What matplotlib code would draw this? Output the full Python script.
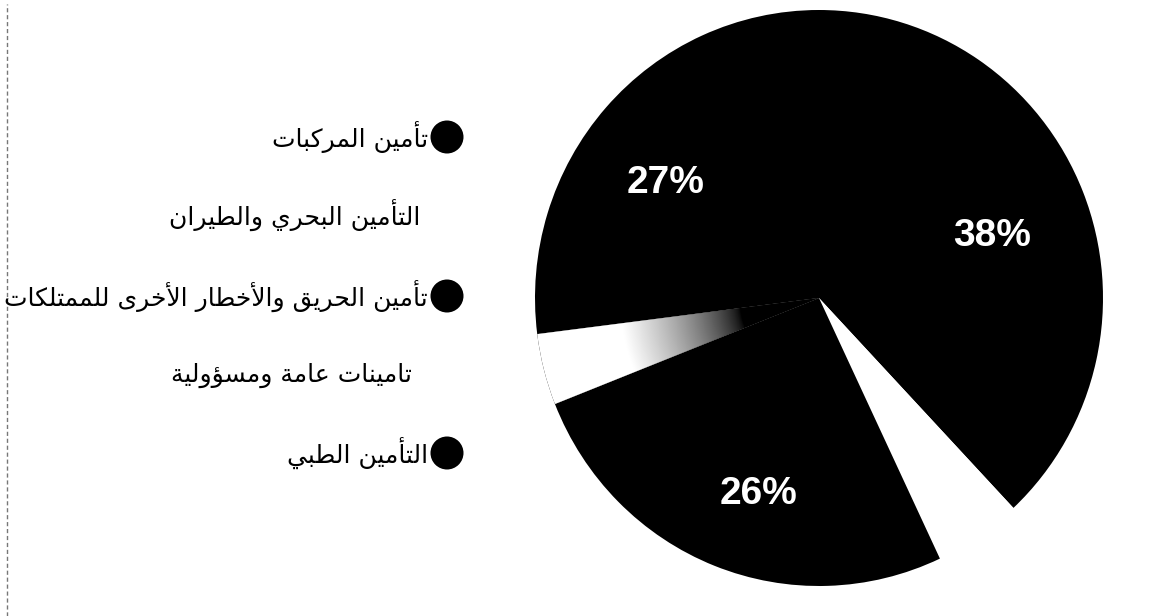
import numpy as np
import matplotlib
matplotlib.use('Agg')
from matplotlib import pyplot as plt
from matplotlib.lines import Line2D
from matplotlib.patches import Ellipse

# data (order follows the legend)
categories = ['تأمين المركبات', 'التأمين البحري والطيران', 'تأمين الحريق والأخطار الأخرى للممتلكات',
              'تامينات عامة ومسؤولية', 'التأمين الطبي']
shares = [38, 5, 26, 4, 27]
pct_labels = ['38%', '', '26%', '', '27%']

slice_colors = ['black', 'white', 'black', 'black', 'black']
marker_colors = ['black', 'white', 'black', 'white', 'black']
label_dist = [0.65, 0.0, 0.70, 0.0, 0.68]
label_turn = [-1.0, 0.0, 3.8, 0.0, 3.9]  # degrees, labels sit a bit off the slice middle


# matplotlib has no arabic shaping, so map letters to presentation forms and flip the order
def _dual(base):
	return (chr(base), chr(base + 1), chr(base + 2), chr(base + 3))


def _right(base):
	return (chr(base), chr(base + 1), None, None)


FORMS = {
	'ء': (chr(0xFE80), None, None, None),
	'آ': _right(0xFE81), 'أ': _right(0xFE83), 'ؤ': _right(0xFE85), 'إ': _right(0xFE87),
	'ئ': _dual(0xFE89), 'ا': _right(0xFE8D), 'ب': _dual(0xFE8F), 'ة': _right(0xFE93),
	'ت': _dual(0xFE95), 'ث': _dual(0xFE99), 'ج': _dual(0xFE9D), 'ح': _dual(0xFEA1),
	'خ': _dual(0xFEA5), 'د': _right(0xFEA9), 'ذ': _right(0xFEAB), 'ر': _right(0xFEAD),
	'ز': _right(0xFEAF), 'س': _dual(0xFEB1), 'ش': _dual(0xFEB5), 'ص': _dual(0xFEB9),
	'ض': _dual(0xFEBD), 'ط': _dual(0xFEC1), 'ظ': _dual(0xFEC5), 'ع': _dual(0xFEC9),
	'غ': _dual(0xFECD), 'ف': _dual(0xFED1), 'ق': _dual(0xFED5), 'ك': _dual(0xFED9),
	'ل': _dual(0xFEDD), 'م': _dual(0xFEE1), 'ن': _dual(0xFEE5), 'ه': _dual(0xFEE9),
	'و': _right(0xFEED), 'ى': _right(0xFEEF), 'ي': _dual(0xFEF1),
}
LAM_ALEF = {'آ': 0xFEF5, 'أ': 0xFEF7, 'إ': 0xFEF9, 'ا': 0xFEFB}


def shape_arabic(text):
	units = []
	i = 0
	while i < len(text):
		if text[i] == 'ل' and i + 1 < len(text) and text[i + 1] in LAM_ALEF:
			units.append(_right(LAM_ALEF[text[i + 1]]))
			i += 2
		else:
			units.append(FORMS.get(text[i], text[i]))
			i += 1
	out = []
	for k, u in enumerate(units):
		if isinstance(u, str):
			out.append(u)
			continue
		prev = units[k - 1] if k > 0 else None
		nxt = units[k + 1] if k + 1 < len(units) else None
		join_prev = isinstance(prev, tuple) and prev[2] is not None
		join_next = u[2] is not None and isinstance(nxt, tuple) and nxt[1] is not None
		if join_prev and join_next:
			out.append(u[3])
		elif join_prev:
			out.append(u[1])
		elif join_next:
			out.append(u[2])
		else:
			out.append(u[0])
	return ''.join(reversed(out))


W, H = 1157, 616
fig = plt.figure(figsize=(W / 100, H / 100), dpi=100)
fig.patch.set_facecolor('white')

# pie axes, centre ~(819, 298) px, radius ~284 x 288 px
ax = fig.add_axes([535 / W, 30 / H, 568 / W, 576 / H])
wedges, _ = ax.pie(shares, colors=slice_colors, startangle=90, counterclock=False,
                   radius=1, wedgeprops=dict(linewidth=0))
ax.set_aspect('auto')
ax.set_xlim(-1, 1)
ax.set_ylim(-1, 1)
ax.axis('off')

# the small "general" slice is a washed-out scan: white at the rim fading to black
gx, gy = np.meshgrid(np.linspace(-1, 1, 600), np.linspace(-1, 1, 600))
rr = np.sqrt(gx ** 2 + gy ** 2)
shade = np.clip((rr - 0.28) / 0.42, 0, 1) ** 0.7
img = ax.imshow(shade, extent=(-1, 1, -1, 1), origin='lower', cmap='gray', vmin=0, vmax=1,
                aspect='auto', zorder=3)
img.set_clip_path(wedges[3])

for w, lab, d, turn in zip(wedges, pct_labels, label_dist, label_turn):
	if not lab:
		continue
	mid = np.deg2rad((w.theta1 + w.theta2) / 2 + turn)
	ax.text(d * np.cos(mid), d * np.sin(mid), lab, color='white', fontsize=28,
	        fontweight='bold', family='Liberation Sans', ha='center', va='center_baseline',
	        zorder=5)

# legend drawn by hand on the left
row_y = [137, 215, 296, 375, 453]
text_right = [428, 420, 428, 412, 428]
for name, col, y, xr in zip(categories, marker_colors, row_y, text_right):
	fig.patches.append(Ellipse((447 / W, 1 - y / H), 33 / W, 33 / H, transform=fig.transFigure,
	                           facecolor=col, edgecolor='none'))
	fig.text(xr / W, 1 - y / H, shape_arabic(name), ha='right', va='center',
	         fontsize=18, family='DejaVu Sans', color='black')

# dotted rule at the left edge of the scan
fig.add_artist(Line2D([7 / W, 7 / W], [0, 1 - 4 / H], transform=fig.transFigure,
                      color='#777777', lw=1, linestyle=(0, (3, 2))))

fig.savefig('out.png', dpi=100)
